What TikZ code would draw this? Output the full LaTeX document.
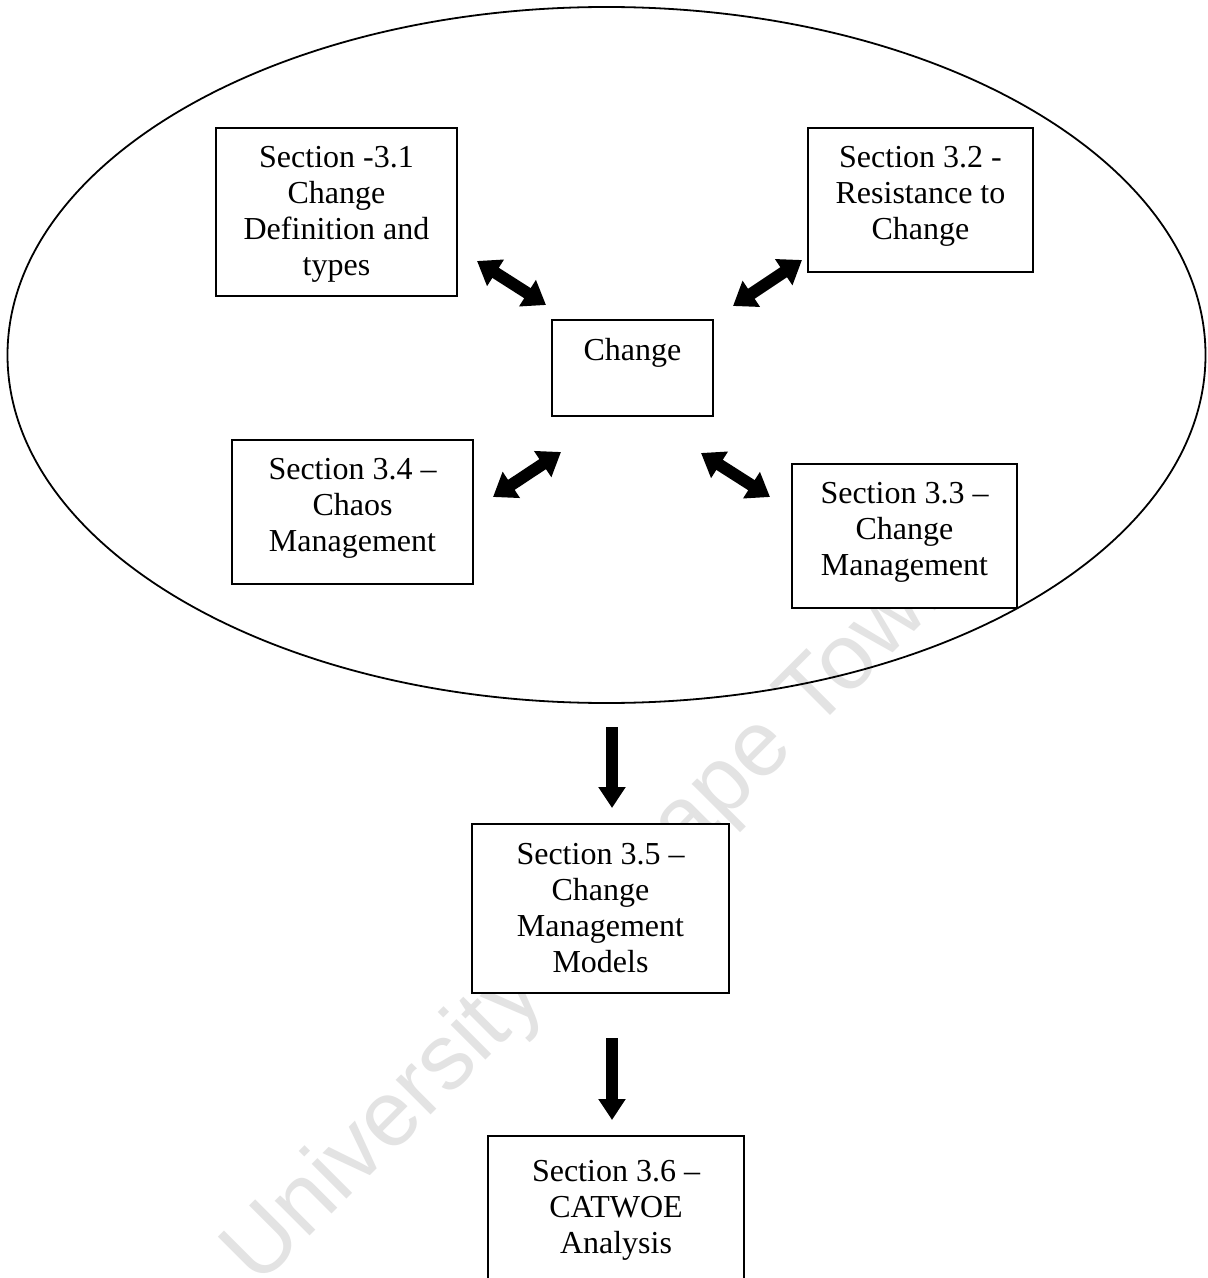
\documentclass[tikz,border=0pt]{standalone}
\usepackage{fontspec}
\setmainfont{Liberation Serif}
\newfontfamily\markfont{Liberation Sans}
\usetikzlibrary{arrows.meta,calc}
\begin{document}
\begin{tikzpicture}[x=0.5pt,y=-0.5pt,
  box/.style={draw=black, line width=1pt, fill=white, inner sep=0pt, anchor=north west},
  txt/.style={inner sep=0pt, anchor=north, align=center, font=\fontsize{16pt}{18pt}\selectfont},
  downarrow/.style={line width=6pt, -{Triangle[length=10.5pt,width=13pt]}},
  twoway/.style={line width=6pt, {Triangle[length=11pt,width=15pt]}-{Triangle[length=11pt,width=15pt]}},
  wmark/.style={text=black!11, inner sep=0pt, font=\markfont\fontsize{46.5pt}{50pt}\selectfont},
]
% page area
\clip (0,0) rectangle (1207,1278);
\fill[white] (0,0) rectangle (1207,1278);

% faint background mark
\node[wmark, rotate=45] (mark) at (596,916) {University of Cape Town};

% enclosing ellipse
\draw[line width=0.9pt] (606.5,355) ellipse [x radius=599, y radius=348];

% boxes
\node[box, minimum width=120.5pt, minimum height=84pt]   (b31) at (215,127) {};
\node[box, minimum width=112.5pt, minimum height=72pt]   (b32) at (807,127) {};
\node[box, minimum width=80.5pt,  minimum height=48pt]   (chg) at (551,319) {};
\node[box, minimum width=120.5pt, minimum height=72pt]   (b34) at (231,439) {};
\node[box, minimum width=112.5pt, minimum height=72pt]   (b33) at (791,463) {};
\node[box, minimum width=128.5pt, minimum height=84.5pt] (b35) at (471,823) {};
\node[box, minimum width=128pt,   minimum height=100pt]  (b36) at (487,1135) {};

% box texts
\node[txt] (t31) at ($(b31.north)+(0,19)$) {Section -3.1\\Change\\Definition and\\types};
\node[txt] (t32) at ($(b32.north)+(0,19)$) {Section 3.2 -\\Resistance to\\Change};
\node[txt] (tchg) at ($(chg.north)+(0,19)$) {Change};
\node[txt] (t34) at ($(b34.north)+(0,19)$) {Section 3.4 --\\Chaos\\Management};
\node[txt] (t33) at ($(b33.north)+(0,19)$) {Section 3.3 --\\Change\\Management};
\node[txt] (t35) at ($(b35.north)+(0,20)$) {Section 3.5 --\\Change\\Management\\Models};
\node[txt] (t36) at ($(b36.north)+(0,25)$) {Section 3.6 --\\CATWOE\\Analysis};

% arrow end points
\coordinate (a1s) at (477,261);  \coordinate (a1e) at (546,305);
\coordinate (a2s) at (802,260);  \coordinate (a2e) at (733,306);
\coordinate (a3s) at (561,452);  \coordinate (a3e) at (493,497);
\coordinate (a4s) at (701,453);  \coordinate (a4e) at (770,497);
\coordinate (d1s) at (612,727);  \coordinate (d1e) at (612,808);
\coordinate (d2s) at (612,1038); \coordinate (d2e) at (612,1120);

% two-way arrows around the centre
\draw[twoway] (a1s) -- (a1e);
\draw[twoway] (a2s) -- (a2e);
\draw[twoway] (a3s) -- (a3e);
\draw[twoway] (a4s) -- (a4e);

% downward arrows
\draw[downarrow] (d1s) -- (d1e);
\draw[downarrow] (d2s) -- (d2e);
\end{tikzpicture}
\end{document}
